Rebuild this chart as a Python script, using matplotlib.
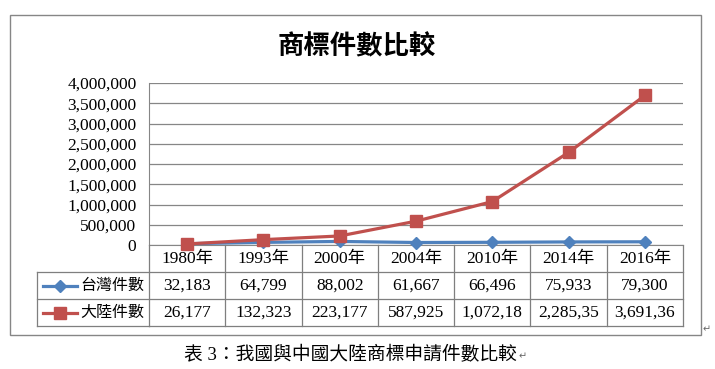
import matplotlib
matplotlib.use("Agg")
import matplotlib.pyplot as plt
from matplotlib.lines import Line2D
from matplotlib.patches import Rectangle
from matplotlib.transforms import blended_transform_factory
from matplotlib.ticker import FuncFormatter, MultipleLocator

plt.rcParams['font.family'] = ['Liberation Serif', 'Noto Sans CJK TC', 'DejaVu Sans']

# data
years = ['1980年', '1993年', '2000年', '2004年', '2010年', '2014年', '2016年']
taiwan = [32183, 64799, 88002, 61667, 66496, 75933, 79300]
china = [26177, 132323, 223177, 587925, 1072180, 2285350, 3691360]
series_names = ['台灣件數', '大陸件數']
title = '商標件數比較'
caption = '表 3：我國與中國大陸商標申請件數比較'

BLUE = '#4F81BD'
RED = '#C0504D'
GRID = '#868686'
W, H = 715, 369


def fx(px):
    return px / W


def fy(py):
    return 1 - py / H


fig = plt.figure(figsize=(W / 100, H / 100), dpi=100)
ax = fig.add_axes([fx(149), fy(245), fx(683) - fx(149), fy(83) - fy(245)])

x = list(range(len(years)))
# taiwan first, china drawn on top (like the original)
ax.plot(x, taiwan, color=BLUE, lw=2.3, marker='D', ms=6.5, clip_on=False, zorder=3)
ax.plot(x, china, color=RED, lw=2.3, marker='s', ms=8.5, clip_on=False, zorder=4)

ax.set_xlim(-0.5, len(years) - 0.5)
ax.set_ylim(0, 4000000)
ax.yaxis.set_major_locator(MultipleLocator(500000))
ax.yaxis.set_major_formatter(FuncFormatter(lambda v, p: f"{int(v):,}"))
ax.tick_params(axis='y', length=0, pad=9, labelsize=12.5)
ax.set_xticks([])
ax.grid(axis='y', color=GRID, lw=0.9)
ax.set_axisbelow(True)
for s in ['top', 'right']:
    ax.spines[s].set_visible(False)
ax.spines['left'].set_color(GRID)
ax.spines['bottom'].set_color(GRID)

# data table under the plot
tr = blended_transform_factory(ax.transData, fig.transFigure)
row_y = [245, 272, 299, 326]
tc = '#7F7F7F'
for i in range(len(years) + 1):
    fig.add_artist(Line2D([i - 0.5, i - 0.5], [fy(245), fy(326)], transform=tr, color=tc, lw=0.9))
for yy in row_y[1:]:
    fig.add_artist(Line2D([-0.5, len(years) - 0.5], [fy(yy), fy(yy)], transform=tr, color=tc, lw=0.9))
    fig.add_artist(Line2D([fx(37), fx(149)], [fy(yy), fy(yy)], color=tc, lw=0.9))
fig.add_artist(Line2D([fx(37), fx(37)], [fy(272), fy(326)], color=tc, lw=0.9))

for i, yr in enumerate(years):
    fig.text(i, fy(258.5), yr, transform=tr, ha='center', va='center', fontsize=12.5)
    fig.text(i, fy(285.5), f"{taiwan[i]:,}"[:8], transform=tr, ha='center', va='center', fontsize=12.5)
    fig.text(i, fy(312.5), f"{china[i]:,}"[:8], transform=tr, ha='center', va='center', fontsize=12.5)

# legend keys in row labels
for name, yc, col, mk, ms in [(series_names[0], 285.5, BLUE, 'D', 6.5), (series_names[1], 312.5, RED, 's', 8.5)]:
    fig.add_artist(Line2D([fx(43), fx(77)], [fy(yc), fy(yc)], color=col, lw=2.3))
    fig.add_artist(Line2D([fx(60)], [fy(yc)], color=col, marker=mk, ms=ms, lw=0))
    fig.text(fx(80), fy(yc), name, ha='left', va='center', fontsize=11.5)

# chart frame and title
fig.add_artist(Rectangle((fx(10), fy(335)), fx(701) - fx(10), fy(15) - fy(335),
                         transform=fig.transFigure, fill=False, edgecolor=GRID, lw=1))
fig.text(fx(357), fy(47), title, ha='center', va='center', fontsize=19, fontweight='bold')

fig.text(fx(350), fy(355), caption, ha='center', va='center', fontsize=13.5)
fig.text(fx(519), fy(357), '↵', ha='left', va='center', fontsize=7, color='#666666')
fig.text(fx(703), fy(330), '↵', ha='left', va='center', fontsize=7, color='#666666')

fig.savefig('out.png', dpi=100)
